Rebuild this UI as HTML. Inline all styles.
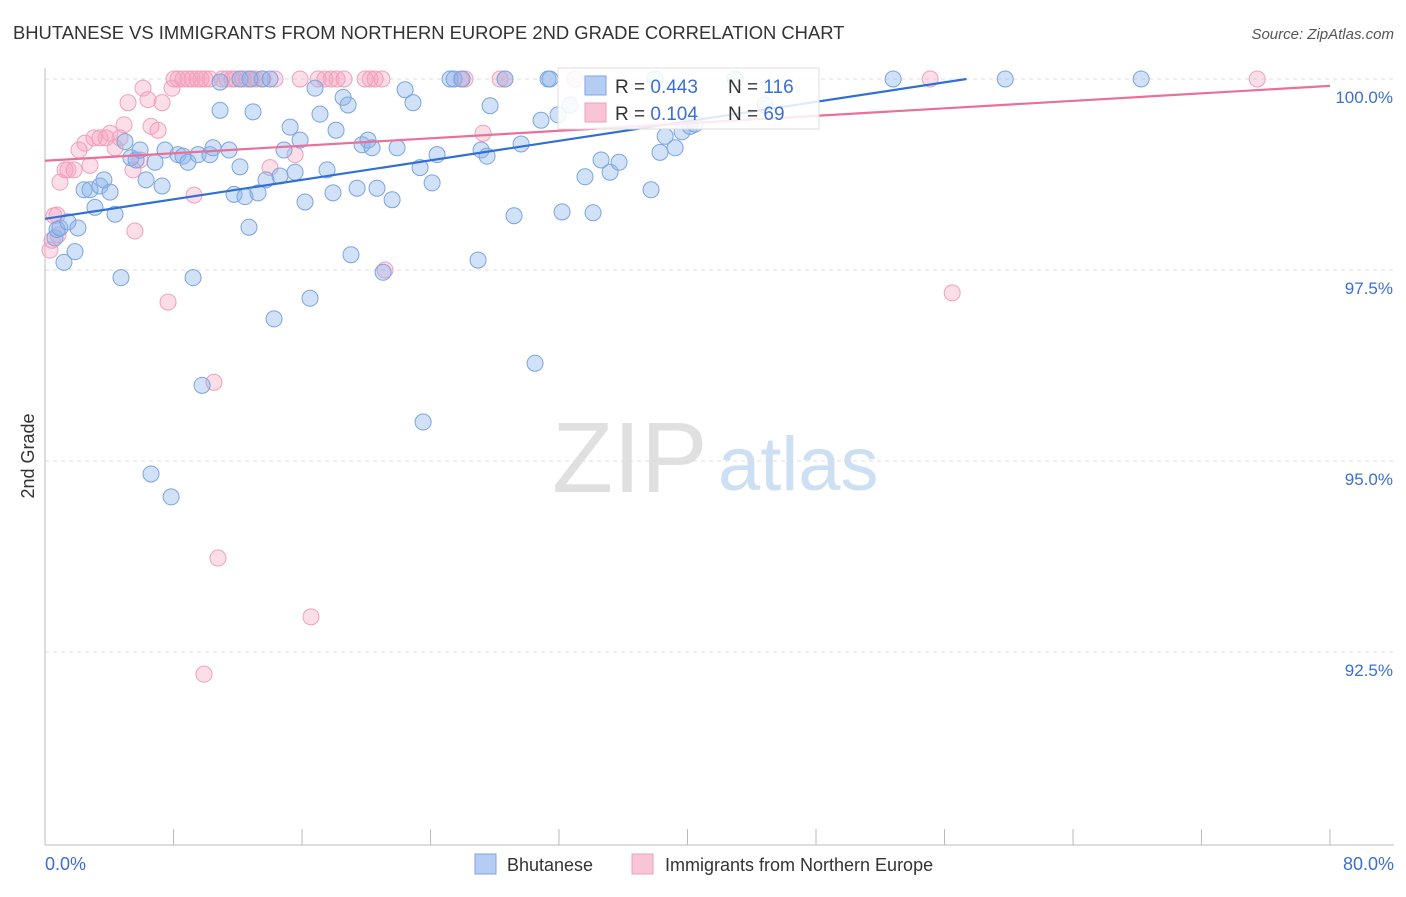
<!DOCTYPE html>
<html><head><meta charset="utf-8"><style>
body{margin:0;background:#fff;font-family:"Liberation Sans",sans-serif;}
svg text{font-family:"Liberation Sans",sans-serif;}
</style></head><body>
<svg id="chart" width="1406" height="892" viewBox="0 0 1406 892" xmlns="http://www.w3.org/2000/svg">
<text x="13" y="39" font-size="18.4" fill="#333">BHUTANESE VS IMMIGRANTS FROM NORTHERN EUROPE 2ND GRADE CORRELATION CHART</text>
<text x="1394" y="39" font-size="15" fill="#555" text-anchor="end" font-style="italic">Source: ZipAtlas.com</text>
<g>
<text x="552" y="492" font-size="100" fill="#e0e0e0" font-family="Liberation Serif, serif">ZIP</text>
<text x="718" y="490" font-size="76" fill="#cddff3">atlas</text>
</g>
<g id="grid"></g>
<g id="axes"></g>
<g id="pts"></g>
<g id="trend"></g>
<text transform="translate(34,456) rotate(-90)" font-size="18" fill="#333" text-anchor="middle">2nd Grade</text>
<g>
<rect x="558" y="68" width="261" height="61" fill="#fff" fill-opacity="0.85" stroke="#ddd"/>
<rect x="585" y="76" width="21" height="19" fill="#b5cdf3" stroke="#7aa5e0"/>
<text x="615" y="93" font-size="19" fill="#333">R = <tspan fill="#3b6fd4">0.443</tspan></text>
<text x="728" y="93" font-size="19" fill="#333">N = <tspan fill="#3b6fd4">116</tspan></text>
<rect x="585" y="103" width="21" height="19" fill="#f9c4d5" stroke="#f0a0bb"/>
<text x="615" y="120" font-size="19" fill="#333">R = <tspan fill="#3b6fd4">0.104</tspan></text>
<text x="728" y="120" font-size="19" fill="#333">N = <tspan fill="#3b6fd4">69</tspan></text>
</g>
<g>
<rect x="475" y="854" width="21" height="20" fill="#b5cdf3" stroke="#7aa5e0"/>
<text x="507" y="871" font-size="18" fill="#333">Bhutanese</text>
<rect x="632" y="854" width="21" height="20" fill="#f9c4d5" stroke="#f0a0bb"/>
<text x="665" y="871" font-size="18" fill="#333">Immigrants from Northern Europe</text>
</g>
</svg>
<script>
const blueX=[0.62,0.75,0.93,1.18,1.43,1.87,2.05,2.43,2.80,3.11,3.42,3.67,4.05,4.36,4.73,4.98,5.35,5.67,5.92,6.29,6.85,7.29,7.47,8.28,8.59,8.90,9.22,9.53,9.78,10.27,10.46,10.90,10.90,11.46,11.77,12.14,12.45,12.70,12.95,13.26,13.51,13.76,14.01,14.63,14.88,15.26,15.57,15.88,16.19,16.50,16.81,17.12,17.56,17.93,18.12,18.56,18.87,19.05,19.43,19.74,20.11,20.36,20.67,21.05,21.61,21.92,22.42,22.91,23.35,23.54,24.10,24.41,25.22,25.47,25.97,26.96,27.15,27.52,27.71,28.64,29.20,29.64,30.51,30.88,31.32,31.44,31.94,32.19,32.69,33.62,34.12,34.62,35.18,35.74,37.73,38.29,38.61,39.23,39.66,40.16,40.47,42.96,44.83,52.80,59.78,68.24,6.60,7.85,14.26,12.14,12.76,37.98];
const blueY=[97.92,98.03,98.05,97.60,98.13,97.74,98.05,98.55,98.55,98.32,98.60,98.68,98.52,98.23,97.40,99.18,98.97,98.94,99.07,98.68,98.91,98.60,99.07,99.01,98.99,98.91,97.40,99.01,95.99,99.01,99.10,99.96,99.59,99.07,98.49,98.85,98.46,98.06,99.57,98.51,100,98.68,100,98.73,99.07,99.37,98.78,99.20,98.39,97.13,99.88,99.54,98.81,98.51,99.33,99.76,99.66,97.70,98.57,99.14,99.20,99.10,98.57,97.47,98.42,99.10,99.86,99.69,98.84,95.51,98.64,99.01,100,100,100,97.63,99.07,98.99,99.65,100,98.21,99.15,96.28,99.46,100,100,99.53,98.26,99.66,98.72,98.25,98.94,98.78,98.91,98.55,99.04,99.25,99.10,99.31,99.38,99.41,100,99.66,100,100,100,94.83,94.53,96.86,100,100,100];
const pinkX=[0.31,0.56,0.75,0.93,1.25,1.43,1.81,2.12,2.49,2.80,3.05,3.42,3.80,4.05,4.36,4.67,4.92,5.17,5.48,5.60,5.92,6.10,6.41,6.60,7.04,7.29,7.66,7.91,8.03,8.28,8.59,8.90,9.15,9.28,9.46,9.71,9.96,10.27,10.52,10.77,9.90,11.02,11.33,11.64,11.83,12.33,12.58,12.89,13.14,13.57,14.01,14.32,15.57,15.88,16.56,17.00,17.43,17.81,18.18,18.62,19.93,20.24,20.55,20.98,21.17,25.90,26.15,27.27,28.33,28.64,33.00,55.11,56.48,75.47,0.44,0.81];
const pinkY=[97.76,98.21,98.22,98.65,98.81,98.81,98.81,99.07,99.16,98.87,99.23,99.23,99.23,99.29,99.10,99.23,99.40,99.69,98.81,98.01,98.94,99.88,99.73,99.38,99.33,99.69,97.08,99.88,100,100,100,100,100,98.48,100,100,100,100,96.03,93.73,92.21,100,100,100,100,100,100,100,100,100,98.84,100,99.01,100,92.96,100,100,100,100,100,100,100,100,100,97.50,100,100,99.29,100,100,100,100,97.20,100,97.89,97.96];
const trendIntercept=[98.17,98.93];
const trendSlope=[0.0319,0.01225];
const yTicks=[100,97.5,95,92.5];
const yTickLabels=["100.0%","97.5%","95.0%","92.5%"];
const xTicks=[0,8,16,24,32,40,48,56,64,72,80];

const X0=45,X1=1330,Ytop=79;
function sx(v){return X0+(v/80)*(X1-X0);}
function sy(v){return Ytop+(100-v)*76.4;}
const NS="http://www.w3.org/2000/svg";
function mk(tag,attrs,parent){const e=document.createElementNS(NS,tag);for(const k in attrs)e.setAttribute(k,attrs[k]);parent.appendChild(e);return e;}
const grid=document.getElementById('grid'),axes=document.getElementById('axes'),pts=document.getElementById('pts'),trend=document.getElementById('trend');
yTicks.forEach((t,i)=>{
 const l=mk('line',{x1:X0,x2:1394,y1:sy(t),y2:sy(t),stroke:'#ddd','stroke-dasharray':'4,4'},grid);
 
 
 const tx=mk('text',{x:1393,y:sy(t)+24,'font-size':17,fill:'#3b6fd4','text-anchor':'end'},axes);
 tx.textContent=yTickLabels[i];
 
 
});
const ya=mk('line',{x1:X0,x2:X0,y1:68,y2:845,stroke:'#bbb'},axes);


const xa=mk('line',{x1:X0,x2:1394,y1:845,y2:845,stroke:'#bbb'},axes);


xTicks.forEach(t=>{
 const l=mk('line',{x1:sx(t),x2:sx(t),y1:829,y2:845,stroke:'#bbb'},axes);
 
 
});
const xl0=mk('text',{x:45,y:870,'font-size':18,fill:'#3b6fd4'},axes);xl0.textContent='0.0%';


const xl1=mk('text',{x:1394,y:870,'font-size':18,fill:'#3b6fd4','text-anchor':'end'},axes);xl1.textContent='80.0%';


function dots(xs,ys,fill,stroke,name){
 xs.forEach((x,i)=>{
  const c=mk('circle',{cx:sx(x),cy:sy(ys[i]),r:8,fill:fill,stroke:stroke,'stroke-width':1},pts);
  
  
 });
}
dots(pinkX,pinkY,'rgba(245,160,190,0.35)','#f0a0bb','immigrants-point');
dots(blueX,blueY,'rgba(140,180,235,0.4)','#7aa5e0','bhutanese-point');
let bx1=Math.min(80,(100-trendIntercept[0])/trendSlope[0]);
const bl=mk('line',{x1:sx(0),y1:sy(trendIntercept[0]),x2:sx(bx1),y2:sy(trendIntercept[0]+trendSlope[0]*bx1),stroke:'#2f6fd6','stroke-width':2.2},trend);


const pl=mk('line',{x1:sx(0),y1:sy(trendIntercept[1]),x2:sx(80),y2:sy(trendIntercept[1]+trendSlope[1]*80),stroke:'#e8709a','stroke-width':2.2},trend);


</script>
</body></html>
